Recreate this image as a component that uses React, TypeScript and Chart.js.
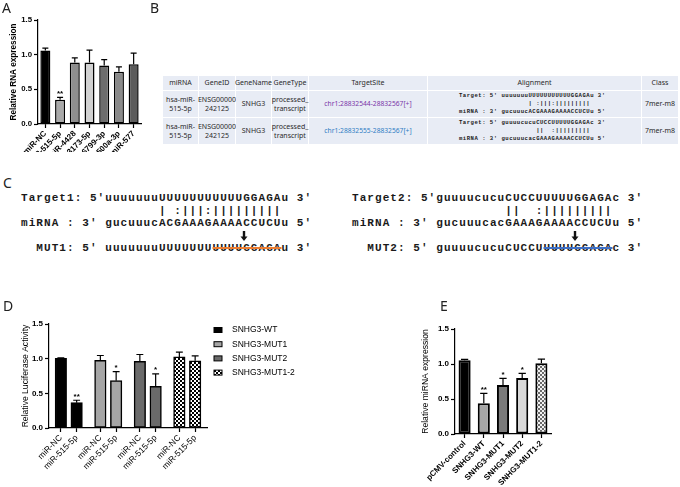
import React, { useEffect, useRef } from 'react';
import { Chart, registerables } from 'chart.js';

Chart.register(...registerables);

// ---------- shared ----------
const yTickValues = [0, 0.5, 1.0, 1.5];

// ---------- panel A ----------
const aLabels = ['miR-NC', 'miR-515-5p', 'miR-4428', 'miR-3173-5p', 'miR-6799-3p', 'miR-500a-3p', 'miR-577'];
const aValues = [1.06, 0.35, 0.886, 0.886, 0.843, 0.752, 0.863];
const aErrors = [0.034, 0.034, 0.067, 0.18, 0.086, 0.072, 0.158];
const aStars = ['', '**', '', '', '', '', ''];
const aColors = ['#000000', '#a9a9a9', '#8e8e8e', '#d2d2d2', '#6e6e6e', '#8a8a8a', '#5c5c5c'];

// ---------- panel D ----------
const dTreatments = ['miR-NC', 'miR-515-5p'];
const dGroups = ['SNHG3-WT', 'SNHG3-MUT1', 'SNHG3-MUT2', 'SNHG3-MUT1-2'];
const dWTValues = [1.005, 0.365];
const dWTErrors = [0.008, 0.035];
const dWTStars = ['', '**'];
const dMUT1Values = [0.976, 0.683];
const dMUT1Errors = [0.07, 0.13];
const dMUT1Stars = ['', '*'];
const dMUT2Values = [0.96, 0.6];
const dMUT2Errors = [0.1, 0.18];
const dMUT2Stars = ['', '*'];
const dMUT12Values = [1.025, 0.97];
const dMUT12Errors = [0.07, 0.07];
const dMUT12Stars = ['', ''];
const dColors = ['#000000', '#a6a6a6', '#6a6a6a', 'checker'];

// ---------- panel E ----------
const eLabels = ['pCMV-control', 'SNHG3-WT', 'SNHG3-MUT1', 'SNHG3-MUT2', 'SNHG3-MUT1-2'];
const eValues = [1.052, 0.438, 0.7, 0.8, 1.01];
const eErrors = [0.015, 0.143, 0.095, 0.067, 0.06];
const eStars = ['', '**', '*', '*', ''];
const eColors = ['#000000', '#a6a6a6', '#7a7a7a', '#d9d9d9', 'checker'];

// ---------- panel B (table) ----------
const bHeaders = ['miRNA', 'GeneID', 'GeneName', 'GeneType', 'TargetSite', 'Alignment', 'Class'];
const bMiRNA = ['hsa-miR-\n515-5p', 'hsa-miR-\n515-5p'];
const bGeneID = ['ENSG00000\n242125', 'ENSG00000\n242125'];
const bGeneName = ['SNHG3', 'SNHG3'];
const bGeneType = ['processed_\ntranscript', 'processed_\ntranscript'];
const bTargetSite = ['chr1:28832544-28832567[+]', 'chr1:28832555-28832567[+]'];
const bAlignTarget = ['Target: 5\' uuuuuuuUUUUUUUUUUUGGAGAu 3\'', 'Target: 5\' guuuucucuCUCCUUUUUGGAGAc 3\''];
const bAlignPairs = ['                  | :|||:|||||||||', '                    ||  :|||||||||'];
const bAlignMiRNA = ['miRNA : 3\' gucuuucACGAAAGAAAACCUCUu 5\'', 'miRNA : 3\' gucuuucacGAAAGAAAACCUCUu 5\''];
const bClass = ['7mer-m8', '7mer-m8'];
const bSiteColors = ['#7a35a8', '#2f7cc4'];

// ---------- panel C (sequences) ----------
const cTarget = ['Target1: 5\'uuuuuuuUUUUUUUUUUUGGAGAu 3\'', 'Target2: 5\'guuuucucuCUCCUUUUUGGAGAc 3\''];
const cPairs = ['                  | :|||:|||||||||', '                    ||  :|||||||||'];
const cMiRNA = ['miRNA : 3\' gucuuucACGAAAGAAAACCUCUu 5\'', 'miRNA : 3\' gucuuucacGAAAGAAAACCUCUu 5\''];
const cMutPre = ['  MUT1: 5\' uuuuuuuUUUUUUU', '  MUT2: 5\' guuuucucuCUCCU'];
const cMutStrike = ['UUUUGGAGA', 'UUUUGGAGA'];
const cMutPost = ['u 3\'', 'c 3\''];
const cStrikeColors = ['#ed7d31', '#3f6fc6'];

const FONT = '"Liberation Sans", Arial, sans-serif';

function makeChecker(size: number, c1: string, c2: string) {
  const cv = document.createElement('canvas');
  cv.width = size * 2;
  cv.height = size * 2;
  const g = cv.getContext('2d')!;
  g.fillStyle = c2;
  g.fillRect(0, 0, size * 2, size * 2);
  g.fillStyle = c1;
  g.fillRect(0, 0, size, size);
  g.fillRect(size, size, size, size);
  return g.createPattern(cv, 'repeat')!;
}

const errorBarPlugin = {
  id: 'errorBars',
  afterDatasetsDraw(chart: any) {
    const ctx = chart.ctx;
    const y = chart.scales.y;
    chart.data.datasets.forEach((ds: any, di: number) => {
      const meta = chart.getDatasetMeta(di);
      const errs = ds.errors || [];
      const stars = ds.stars || [];
      meta.data.forEach((bar: any, i: number) => {
        const v = ds.data[i];
        if (v === null || v === undefined) return;
        const e = errs[i] || 0;
        const top = y.getPixelForValue(v + e);
        const base = y.getPixelForValue(v);
        const half = bar.width * 0.3;
        ctx.save();
        ctx.strokeStyle = '#000';
        ctx.lineWidth = 1.2;
        ctx.beginPath();
        ctx.moveTo(bar.x, base);
        ctx.lineTo(bar.x, top);
        ctx.moveTo(bar.x - half, top);
        ctx.lineTo(bar.x + half, top);
        ctx.stroke();
        if (stars[i]) {
          ctx.fillStyle = '#000';
          ctx.font = 'bold 8px ' + FONT;
          ctx.textAlign = 'center';
          ctx.textBaseline = 'alphabetic';
          ctx.fillText(stars[i], bar.x, top - 1.5);
        }
        ctx.restore();
      });
    });
  },
};

const sideLegendPlugin = {
  id: 'sideLegend',
  afterDraw(chart: any, _args: any, opts: any) {
    if (!opts || opts.x === undefined) return;
    const ctx = chart.ctx;
    chart.data.datasets.forEach((ds: any, i: number) => {
      const cy = opts.y + i * opts.step;
      ctx.save();
      ctx.fillStyle = ds.backgroundColor;
      ctx.fillRect(opts.x, cy - 2.5, 8, 5);
      ctx.strokeStyle = '#000';
      ctx.lineWidth = 1;
      ctx.strokeRect(opts.x, cy - 2.5, 8, 5);
      ctx.fillStyle = '#000';
      ctx.font = '8.5px ' + FONT;
      ctx.textAlign = 'left';
      ctx.textBaseline = 'middle';
      ctx.fillText(ds.label, opts.textX, cy);
      ctx.restore();
    });
  },
};

function yAxis(width: number, text: string, titleSize: number, titlePad: number, tickSize: number, titleWeight: string) {
  return {
    min: 0,
    max: 1.5,
    afterFit: (s: any) => { s.width = width; },
    afterBuildTicks: (s: any) => { s.ticks = yTickValues.map((v) => ({ value: v })); },
    ticks: {
      callback: (v: any) => Number(v).toFixed(1),
      font: { size: tickSize, weight: 'bold', family: FONT },
      color: '#000',
      padding: 2,
    },
    grid: { drawOnChartArea: false, drawTicks: true, tickLength: 4, tickColor: '#000', tickWidth: 1.2 },
    border: { display: true, color: '#000', width: 1.2 },
    title: {
      display: true,
      text,
      color: '#000',
      font: { size: titleSize, family: FONT, weight: titleWeight },
      padding: { top: titlePad, bottom: 0 },
    },
  };
}

function xAxis(height: number, size: number, weight: string) {
  return {
    afterFit: (s: any) => { s.height = height; },
    ticks: {
      autoSkip: false,
      maxRotation: 45,
      minRotation: 45,
      font: { size, family: FONT, weight },
      color: '#000',
      padding: 1,
    },
    grid: {
      offset: false,
      drawOnChartArea: false,
      drawTicks: true,
      tickLength: 4,
      tickWidth: 1.2,
      tickColor: (c: any) => (c.tick && c.tick.label ? '#000' : 'rgba(0,0,0,0)'),
    },
    border: { display: true, color: '#000', width: 1.2 },
  };
}

function baseOptions(padding: any) {
  return {
    responsive: false,
    animation: false,
    devicePixelRatio: 1,
    layout: { padding, autoPadding: false },
    plugins: { legend: { display: false }, tooltip: { enabled: false } },
  };
}

const labelStyle: React.CSSProperties = {
  position: 'absolute',
  fontFamily: '"Noto Sans", sans-serif',
  fontSize: 14,
  lineHeight: '14px',
  color: '#222',
};

function DownArrow({ left, top }: { left: number; top: number }) {
  return (
    <svg width={8} height={10} style={{ position: 'absolute', left, top }} viewBox="0 0 8 10">
      <rect x={2.8} y={0} width={2.4} height={6} fill="#111" />
      <polygon points="0.5,5.5 7.5,5.5 4,10" fill="#111" />
    </svg>
  );
}

export default function App() {
  const aRef = useRef<HTMLCanvasElement>(null);
  const dRef = useRef<HTMLCanvasElement>(null);
  const eRef = useRef<HTMLCanvasElement>(null);

  useEffect(() => {
    document.body.style.margin = '0';
    const charts: Chart[] = [];
    const checkerD = makeChecker(2, '#000000', '#ffffff');
    const checkerE = makeChecker(2, '#6a6a6a', '#f2f2f2');

    // Panel A
    charts.push(
      new Chart(aRef.current!, {
        type: 'bar',
        data: {
          labels: aLabels,
          datasets: [
            {
              data: aValues,
              backgroundColor: aColors,
              borderColor: '#000',
              borderWidth: 1.5,
              borderSkipped: false,
              barPercentage: 0.68,
              categoryPercentage: 1,
              errors: aErrors,
              stars: aStars,
            } as any,
          ],
        },
        options: {
          ...baseOptions({ top: 20, right: 9, left: 0, bottom: 0 }),
          scales: {
            x: xAxis(28, 8, 'bold'),
            y: yAxis(38, 'Relative RNA expression', 8.2, 8.4, 7.8, 'bold'),
          },
        } as any,
        plugins: [errorBarPlugin],
      })
    );

    // Panel D
    const dSeries = [
      { values: dWTValues, errors: dWTErrors, stars: dWTStars },
      { values: dMUT1Values, errors: dMUT1Errors, stars: dMUT1Stars },
      { values: dMUT2Values, errors: dMUT2Errors, stars: dMUT2Stars },
      { values: dMUT12Values, errors: dMUT12Errors, stars: dMUT12Stars },
    ];
    const dSlots: string[] = [''];
    const dSlotIndex: number[][] = [];
    dGroups.forEach((_g, gi) => {
      const idx: number[] = [];
      dTreatments.forEach((t, ti) => {
        if (ti > 0) dSlots.push('');
        idx.push(dSlots.length);
        dSlots.push(t);
      });
      dSlotIndex.push(idx);
      if (gi < dGroups.length - 1) dSlots.push('', '');
    });
    dSlots.push('');
    const dDatasets = dSeries.map((s, gi) => {
      const data: (number | null)[] = dSlots.map(() => null);
      const errors: number[] = dSlots.map(() => 0);
      const stars: string[] = dSlots.map(() => '');
      dSlotIndex[gi].forEach((slot, ti) => {
        data[slot] = s.values[ti];
        errors[slot] = s.errors[ti];
        stars[slot] = s.stars[ti];
      });
      return {
        label: dGroups[gi],
        data,
        errors,
        stars,
        backgroundColor: dColors[gi] === 'checker' ? checkerD : dColors[gi],
        borderColor: '#000',
        borderWidth: 1.5,
        borderSkipped: false,
        grouped: false,
        barThickness: 11.5,
      } as any;
    });
    charts.push(
      new Chart(dRef.current!, {
        type: 'bar',
        data: { labels: dSlots, datasets: dDatasets },
        options: {
          ...baseOptions({ top: 24, right: 103, left: 0, bottom: 0 }),
          scales: {
            x: xAxis(59, 8.5, 'normal'),
            y: yAxis(49, 'Relative Luciferase Activity', 8.6, 20.5, 8, 'normal'),
          },
          plugins: {
            legend: { display: false },
            tooltip: { enabled: false },
            sideLegend: { x: 214, y: 30, step: 14.2, textX: 232 },
          },
        } as any,
        plugins: [errorBarPlugin, sideLegendPlugin],
      })
    );

    // Panel E
    charts.push(
      new Chart(eRef.current!, {
        type: 'bar',
        data: {
          labels: eLabels,
          datasets: [
            {
              data: eValues,
              backgroundColor: eColors.map((c) => (c === 'checker' ? checkerE : c)),
              borderColor: '#000',
              borderWidth: 2,
              borderSkipped: false,
              barPercentage: 0.63,
              categoryPercentage: 1,
              errors: eErrors,
              stars: eStars,
            } as any,
          ],
        },
        options: {
          ...baseOptions({ top: 29, right: 129, left: 0, bottom: 0 }),
          scales: {
            x: xAxis(53, 8, 'bold'),
            y: yAxis(45, 'Relative miRNA expression', 8.6, 10.5, 8, 'normal'),
          },
        } as any,
        plugins: [errorBarPlugin],
      })
    );

    return () => {
      charts.forEach((c) => c.destroy());
    };
  }, []);

  const cell: React.CSSProperties = {
    background: '#e8ecf5',
    display: 'flex',
    alignItems: 'center',
    justifyContent: 'center',
    textAlign: 'center',
    whiteSpace: 'pre-line',
    fontFamily: '"Noto Sans", sans-serif',
    fontSize: 7,
    lineHeight: '9.5px',
    color: '#2a2a2a',
  };
  const mono: React.CSSProperties = {
    fontFamily: '"Liberation Mono", monospace',
    fontWeight: 'bold',
    whiteSpace: 'pre',
    color: '#1a1a1a',
  };

  const rows = [0, 1];

  return (
    <div
      style={{
        position: 'absolute',
        left: 0,
        top: 0,
        width: 680,
        height: 487,
        background: '#fff',
        overflow: 'hidden',
      }}
    >
      <canvas ref={aRef} width={150} height={152} style={{ position: 'absolute', left: 0, top: 0, width: 150, height: 152 }} />
      <canvas ref={dRef} width={310} height={187} style={{ position: 'absolute', left: 0, top: 300, width: 310, height: 187 }} />
      <canvas ref={eRef} width={270} height={187} style={{ position: 'absolute', left: 410, top: 300, width: 270, height: 187 }} />

      <div style={{ ...labelStyle, left: 2, top: 1 }}>A</div>
      <div style={{ ...labelStyle, left: 150, top: 1 }}>B</div>
      <div style={{ ...labelStyle, left: 3, top: 176 }}>C</div>
      <div style={{ ...labelStyle, left: 3, top: 299 }}>D</div>
      <div style={{ ...labelStyle, left: 440, top: 299 }}>E</div>

      {/* Panel B table */}
      <div
        style={{
          position: 'absolute',
          left: 163,
          top: 76,
          width: 515,
          height: 68,
          display: 'grid',
          gridTemplateColumns: '35px 36px 35px 36px 118px 213px 36px',
          gridTemplateRows: '14px 26px 26px',
          gap: 1,
          background: '#fff',
        }}
      >
        {bHeaders.map((h) => (
          <div key={h} style={cell}>{h}</div>
        ))}
        {rows.map((r) => (
          <React.Fragment key={r}>
            <div style={cell}>{bMiRNA[r]}</div>
            <div style={cell}>{bGeneID[r]}</div>
            <div style={cell}>{bGeneName[r]}</div>
            <div style={cell}>{bGeneType[r]}</div>
            <div style={{ ...cell, color: bSiteColors[r], fontSize: 6.7 }}>{bTargetSite[r]}</div>
            <div style={{ ...cell, justifyContent: 'flex-start', paddingLeft: 31 }}>
              <div style={{ ...mono, fontSize: 5.6, letterSpacing: '0.5px', lineHeight: '8px', textAlign: 'left' }}>
                {bAlignTarget[r] + '\n' + bAlignPairs[r] + '\n' + bAlignMiRNA[r]}
              </div>
            </div>
            <div style={cell}>{bClass[r]}</div>
          </React.Fragment>
        ))}
      </div>

      {/* Panel C sequences */}
      {[0, 1].map((k) => (
        <div
          key={k}
          style={{
            ...mono,
            position: 'absolute',
            left: k === 0 ? 21 : 352,
            top: 192,
            fontSize: 11,
            letterSpacing: '1.06px',
            lineHeight: '12.5px',
          }}
        >
          <div>{cTarget[k]}</div>
          <div>{cPairs[k]}</div>
          <div>{cMiRNA[k]}</div>
          <div>{' '}</div>
          <div>
            {cMutPre[k]}
            <span
              style={{
                textDecorationLine: 'line-through',
                textDecorationColor: cStrikeColors[k],
                textDecorationThickness: '1.5px',
              }}
            >
              {cMutStrike[k]}
            </span>
            {cMutPost[k]}
          </div>
        </div>
      ))}
      <DownArrow left={240} top={231} />
      <DownArrow left={571} top={231} />
    </div>
  );
}
